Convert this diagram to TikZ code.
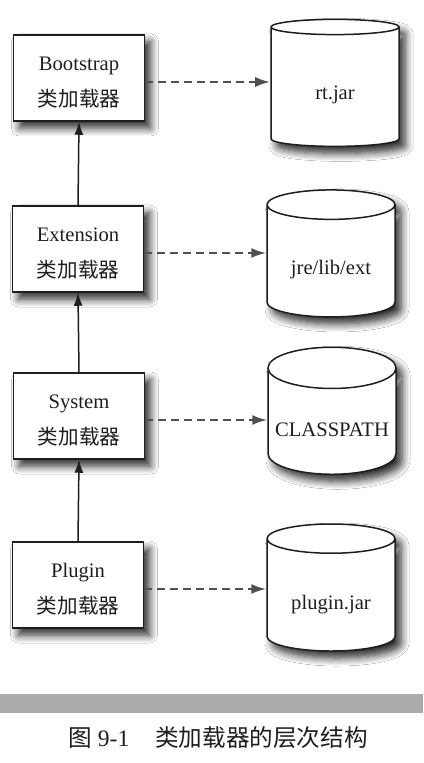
\documentclass[tikz,border=0pt]{standalone}
\usepackage{fontspec}
\setmainfont{Liberation Serif}
\newfontfamily\cjk{Noto Sans CJK SC}
\usetikzlibrary{arrows.meta,shapes.geometric,shadows.blur}
\definecolor{ink}{HTML}{1E1E1E}
\definecolor{dashgray}{HTML}{505050}
\definecolor{band}{HTML}{ABABAB}
\newcommand\ldr[1]{\rule{0pt}{11pt}#1\\[6pt]{\cjk 类加载器}}
\newcommand\jarlbl[1]{\raisebox{-6pt}[0pt][0pt]{#1}}

\begin{document}
\begin{tikzpicture}[x=0.5pt,y=-0.5pt,font=\fontsize{10.3}{12}\selectfont,text=ink,>=Latex,
  hazy/.style={blur shadow={shadow xshift=3pt,shadow yshift=-3.5pt,shadow blur radius=4pt,shadow blur steps=8,shadow opacity=85}},
  loader/.style={rectangle,draw=ink,line width=0.75pt,fill=white,minimum width=65.5pt,minimum height=43pt,align=center,inner sep=1pt,hazy},
  store/.style={cylinder,shape border rotate=90,aspect=0.35,draw=ink,line width=0.75pt,fill=white,minimum width=64pt,minimum height=63.5pt,inner sep=1pt,hazy},
  uses/.style={->,dashgray,line width=1.1pt,dash pattern=on 4pt off 2.5pt,>={Latex[length=7.5pt,width=5pt]}},
  parent/.style={->,ink,line width=0.75pt,>={Latex[length=6.5pt,width=4.5pt]}}]
  \useasboundingbox[fill=white] (0,0) rectangle (423,763);

  % class loaders
  \node[loader] (boot) at (79,78)  {\ldr{Bootstrap}};
  \node[loader] (ext)  at (78,249) {\ldr{Extension}};
  \node[loader] (sys)  at (79,416) {\ldr{System}};
  \node[loader] (plug) at (78,585) {\ldr{Plugin}};

  % where they load from
  \node[store] (rt)  at (335,88)  {\jarlbl{rt.jar}};
  \node[store] (lib) at (331,263) {\jarlbl{jre/lib/ext}};
  \node[store] (cp)  at (332,424) {\jarlbl{CLASSPATH}};
  \node[store] (pj)  at (331,597) {\jarlbl{plugin.jar}};

  \foreach \a/\b in {plug/sys,sys/ext,ext/boot}
    \draw[parent] (\a.north) -- (\b.south);
  \foreach \a/\b in {boot/rt,ext/lib,sys/cp,plug/pj}
    \draw[uses] ([yshift=-2pt]\a.east) -- ([yshift=-2pt]\a.east -| \b.west);

  \fill[band] (0,694) rectangle (423,713);
  \node (cap) at (218,738) {\fontsize{11.8}{14}\selectfont{\cjk 图} 9-1\hspace{1.1em}{\cjk 类加载器的层次结构}};
\end{tikzpicture}
\end{document}
